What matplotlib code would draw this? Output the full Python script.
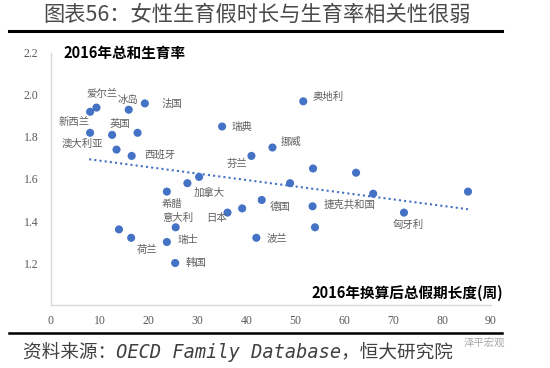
import matplotlib
matplotlib.use("Agg")
import matplotlib.pyplot as plt

# 各国 2016 年换算后总假期长度(周) 与 总和生育率
countries = ['新西兰', '爱尔兰', '冰岛', '法国', '澳大利亚', '英国', '', '', '西班牙',
             '瑞典', '芬兰', '挪威', '奥地利', '', '', '', '', '', '捷克共和国', '匈牙利', '',
             '加拿大', '', '希腊', '日本', '', '德国', '意大利', '', '荷兰', '瑞士', '韩国', '波兰']
leave_weeks = [8.0, 9.3, 15.9, 19.2, 8.0, 12.5, 17.7, 13.4, 16.5,
               35.0, 41.0, 45.3, 51.6, 53.6, 62.4, 48.9, 65.9, 85.3, 53.5, 72.2, 54.0,
               30.3, 27.9, 23.7, 36.1, 39.1, 43.1, 25.5, 13.9, 16.4, 23.7, 25.4, 42.0]
fertility = [1.92, 1.94, 1.93, 1.96, 1.82, 1.81, 1.82, 1.74, 1.71,
             1.85, 1.71, 1.75, 1.97, 1.65, 1.63, 1.58, 1.53, 1.54, 1.47, 1.44, 1.37,
             1.61, 1.58, 1.54, 1.44, 1.46, 1.50, 1.37, 1.36, 1.32, 1.30, 1.20, 1.32]

# 线性趋势线两端
trend_x = [7.8, 85.3]
trend_y = [1.694, 1.456]

x_ticks = [0, 10, 20, 30, 40, 50, 60, 70, 80, 90]
y_ticks = [1.2, 1.4, 1.6, 1.8, 2.0, 2.2]

# 标签相对数据点的偏移(像素, 向右/向下为正)
label_offsets = {
    '新西兰': (-16, 10), '爱尔兰': (6, -14), '冰岛': (-1, -10), '法国': (27, 0),
    '澳大利亚': (-8, 11), '英国': (8, -11), '西班牙': (28, -1), '瑞典': (20, 0),
    '芬兰': (-14, 8), '挪威': (19, -6), '奥地利': (25, -4), '捷克共和国': (37, -2),
    '匈牙利': (4, 12), '加拿大': (10, 16), '希腊': (5, 12), '日本': (-11, 5),
    '德国': (18, 7), '意大利': (2, -9), '荷兰': (16, 12), '瑞士': (21, -2),
    '韩国': (21, 0), '波兰': (21, 0),
}

W, H = 550, 368
plt.rcParams['font.family'] = ['Noto Sans CJK SC', 'DejaVu Sans']

fig = plt.figure(figsize=(W / 100, H / 100), dpi=100, facecolor='white')
ax = fig.add_axes([51 / W, 1 - 305 / H, 440 / W, 252 / H])

blue = '#4472C4'
ax.plot(trend_x, trend_y, color=blue, linewidth=1.5, linestyle=(0, (1, 1.5)), zorder=2)
ax.scatter(leave_weeks, fertility, s=34, color=blue, edgecolors='none', zorder=3)

for name, xv, yv in zip(countries, leave_weeks, fertility):
    if not name:
        continue
    dx, dy = label_offsets[name]
    ax.annotate(name, (xv, yv), xytext=(dx * 0.72, -dy * 0.72), textcoords='offset points',
                ha='center', va='center', fontsize=7.5, color='#606060')

ax.set_xlim(0, 90)
ax.set_ylim(1.0, 2.2)
ax.set_xticks(x_ticks)
ax.set_yticks(y_ticks)
ax.set_yticklabels([f'{v:.1f}' for v in y_ticks])
for lab in ax.get_xticklabels() + ax.get_yticklabels():
    lab.set_fontfamily('Liberation Serif')
    lab.set_fontsize(8.5)
    lab.set_color('#595959')
ax.tick_params(axis='both', length=0)
ax.tick_params(axis='y', pad=9)
ax.tick_params(axis='x', pad=7)
for side in ['top', 'right']:
    ax.spines[side].set_visible(False)
for side in ['left', 'bottom']:
    ax.spines[side].set_color('#d9d9d9')
    ax.spines[side].set_linewidth(1)

ax.text(12 / 440, 1 - 0 / 252, '2016年总和生育率', transform=ax.transAxes,
        ha='left', va='center', fontsize=10.5, fontweight='bold', color='black')
fig.text(503 / W, 1 - 293 / H, '2016年换算后总假期长度(周)', ha='right', va='center',
         fontsize=10.5, fontweight='bold', color='black')

# 标题与分隔线
fig.text(43 / W, 1 - 15 / H, '图表56：女性生育假时长与生育率相关性很弱', ha='left', va='center',
         fontsize=15.3, color='#4a4a4a')
fig.add_artist(plt.Line2D([9 / W, 502 / W], [1 - 31 / H, 1 - 31 / H], color='black', linewidth=2.2))
fig.add_artist(plt.Line2D([9 / W, 502 / W], [1 - 333 / H, 1 - 333 / H], color='black', linewidth=1.8))

fig.text(23 / W, 1 - 352 / H, '资料来源：OECD Family Database，恒大研究院', ha='left', va='center',
         fontsize=13.4, style='italic', color='#404040',
         family=['DejaVu Sans Mono', 'Noto Sans CJK SC'])
fig.text(505 / W, 1 - 343 / H, '泽平宏观', ha='right', va='center', fontsize=7.5, color='#a6a6a6')

fig.savefig('out.png', dpi=100)
